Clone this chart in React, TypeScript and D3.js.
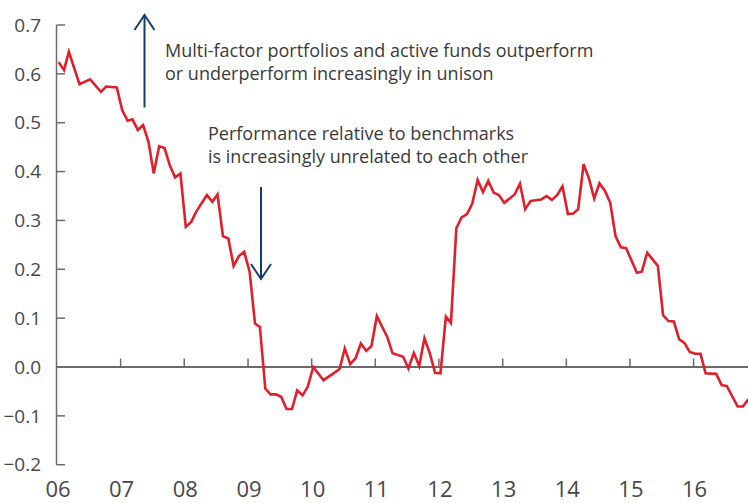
import React from "react";
import * as d3 from "d3";

const months: string[] = [
  "2006-01","2006-02","2006-03","2006-05","2006-07","2006-09","2006-10","2006-12",
  "2007-01","2007-02","2007-03","2007-04","2007-05","2007-06","2007-07","2007-08","2007-09","2007-10","2007-11","2007-12",
  "2008-01","2008-02","2008-03","2008-05","2008-06","2008-07","2008-08","2008-09","2008-10","2008-11","2008-12",
  "2009-01","2009-02","2009-03","2009-04","2009-05","2009-06","2009-07","2009-08","2009-09","2009-10","2009-11","2009-12",
  "2010-01","2010-03","2010-05","2010-06","2010-07","2010-08","2010-09","2010-10","2010-11","2010-12",
  "2011-01","2011-03","2011-04","2011-06","2011-07","2011-08","2011-09","2011-10","2011-11","2011-12",
  "2012-01","2012-02","2012-03","2012-04","2012-05","2012-06","2012-07","2012-08","2012-09","2012-10","2012-11","2012-12",
  "2013-01","2013-03","2013-04","2013-05","2013-06","2013-08","2013-09","2013-10","2013-11","2013-12",
  "2014-01","2014-02","2014-03","2014-04","2014-05","2014-06","2014-07","2014-08","2014-09","2014-10","2014-11","2014-12",
  "2015-02","2015-03","2015-04","2015-06","2015-07","2015-08","2015-09","2015-10","2015-11","2015-12",
  "2016-01","2016-02","2016-03","2016-05","2016-06","2016-07","2016-09","2016-10","2016-11"
];

const values: number[] = [
  0.624,0.608,0.645,0.579,0.589,0.563,0.574,0.572,
  0.526,0.504,0.507,0.485,0.495,0.461,0.396,0.452,0.448,0.413,0.388,0.396,
  0.287,0.297,0.318,0.352,0.338,0.353,0.268,0.263,0.207,0.227,0.236,
  0.195,0.089,0.082,-0.044,-0.056,-0.056,-0.061,-0.086,-0.086,-0.048,-0.058,-0.040,
  0.0,-0.027,-0.012,-0.004,0.038,0.006,0.018,0.048,0.033,0.043,
  0.104,0.062,0.028,0.021,-0.003,0.029,0.002,0.059,0.028,-0.012,
  -0.013,0.103,0.090,0.284,0.306,0.313,0.334,0.383,0.358,0.381,0.357,0.352,
  0.336,0.353,0.375,0.323,0.340,0.343,0.350,0.342,0.352,0.370,
  0.313,0.314,0.323,0.415,0.387,0.345,0.376,0.361,0.336,0.268,0.245,0.243,
  0.193,0.195,0.234,0.207,0.106,0.094,0.093,0.057,0.049,0.031,
  0.027,0.027,-0.013,-0.014,-0.037,-0.039,-0.081,-0.081,-0.066
];

const yTicks: number[] = [-0.2, -0.1, 0, 0.1, 0.2, 0.3, 0.4, 0.5, 0.6, 0.7];
const yearLabels: string[] = ["06","07","08","09","10","11","12","13","14","15","16"];
const annotationUp: string[] = [
  "Multi-factor portfolios and active funds outperform",
  "or underperform increasingly in unison",
];
const annotationDown: string[] = [
  "Performance relative to benchmarks",
  "is increasingly unrelated to each other",
];

const W = 748;
const H = 503;
const FONT = "'Open Sans', 'Noto Sans', sans-serif";

export default function App() {
  const x = d3
    .scaleTime()
    .domain([new Date(2006, 0, 1), new Date(2017, 0, 1)])
    .range([57, 57 + 11 * 63.67]);
  const y = d3.scaleLinear().domain([0, 0.7]).range([367, 25]);

  const parse = d3.timeParse("%Y-%m-%d");
  const data = months.map((m, i) => ({ d: parse(m + "-10") as Date, v: values[i] }));
  const line = d3
    .line<{ d: Date; v: number }>()
    .x((p) => x(p.d))
    .y((p) => y(p.v));

  const axisX = 56.5;
  const axisColor = "#6b6b6b";
  const textColor = "#474747";
  const navy = "#123e6b";

  const upX = 144.5;
  const downX = 261;

  return (
    <svg
      width={W}
      height={H}
      style={{ position: "absolute", left: 0, top: 0, background: "#fff" }}
      fontFamily={FONT}
    >
      {/* y axis */}
      <line x1={axisX} x2={axisX} y1={y(0.7)} y2={y(-0.2)} stroke={axisColor} strokeWidth={1.5} />
      {yTicks.map((t) => (
        <g key={t}>
          <line x1={axisX} x2={axisX + 8.5} y1={y(t)} y2={y(t)} stroke={axisColor} strokeWidth={1.5} />
          <text
            x={41}
            y={y(t)}
            dy="0.35em"
            textAnchor="end"
            fontSize={19}
            fill={textColor}
          >
            {t === 0 ? "0.0" : d3.format(".1f")(t)}
          </text>
        </g>
      ))}
      {/* zero line */}
      <line x1={axisX} x2={W} y1={y(0)} y2={y(0)} stroke={axisColor} strokeWidth={2} />
      {yearLabels.map((lab, i) => {
        const xx = x(new Date(2006 + i, 0, 1));
        return (
          <g key={lab}>
            {i > 0 && (
              <line x1={xx} x2={xx} y1={y(0) - 8.5} y2={y(0)} stroke={axisColor} strokeWidth={1.5} />
            )}
            <text x={xx + 1} y={497} textAnchor="middle" fontSize={22} fill={textColor}>
              {lab}
            </text>
          </g>
        );
      })}
      {/* data line */}
      <path d={line(data) || ""} fill="none" stroke="#e01f2b" strokeWidth={2.6} strokeLinejoin="miter" />
      {/* arrows */}
      <g stroke={navy} strokeWidth={2} fill="none">
        <line x1={upX} x2={upX} y1={107.5} y2={15} />
        <polyline points={`${upX - 10},${30} ${upX},${15} ${upX + 10},${30}`} />
        <line x1={downX} x2={downX} y1={187} y2={279} />
        <polyline points={`${downX - 10},${264} ${downX},${279} ${downX + 10},${264}`} />
      </g>
      {/* annotations */}
      <g fontSize={18} fill="#3a3a3a">
        {annotationUp.map((s, i) => (
          <text key={s} x={165} y={57 + i * 23}>
            {s}
          </text>
        ))}
        {annotationDown.map((s, i) => (
          <text key={s} x={208} y={139.5 + i * 23}>
            {s}
          </text>
        ))}
      </g>
    </svg>
  );
}
